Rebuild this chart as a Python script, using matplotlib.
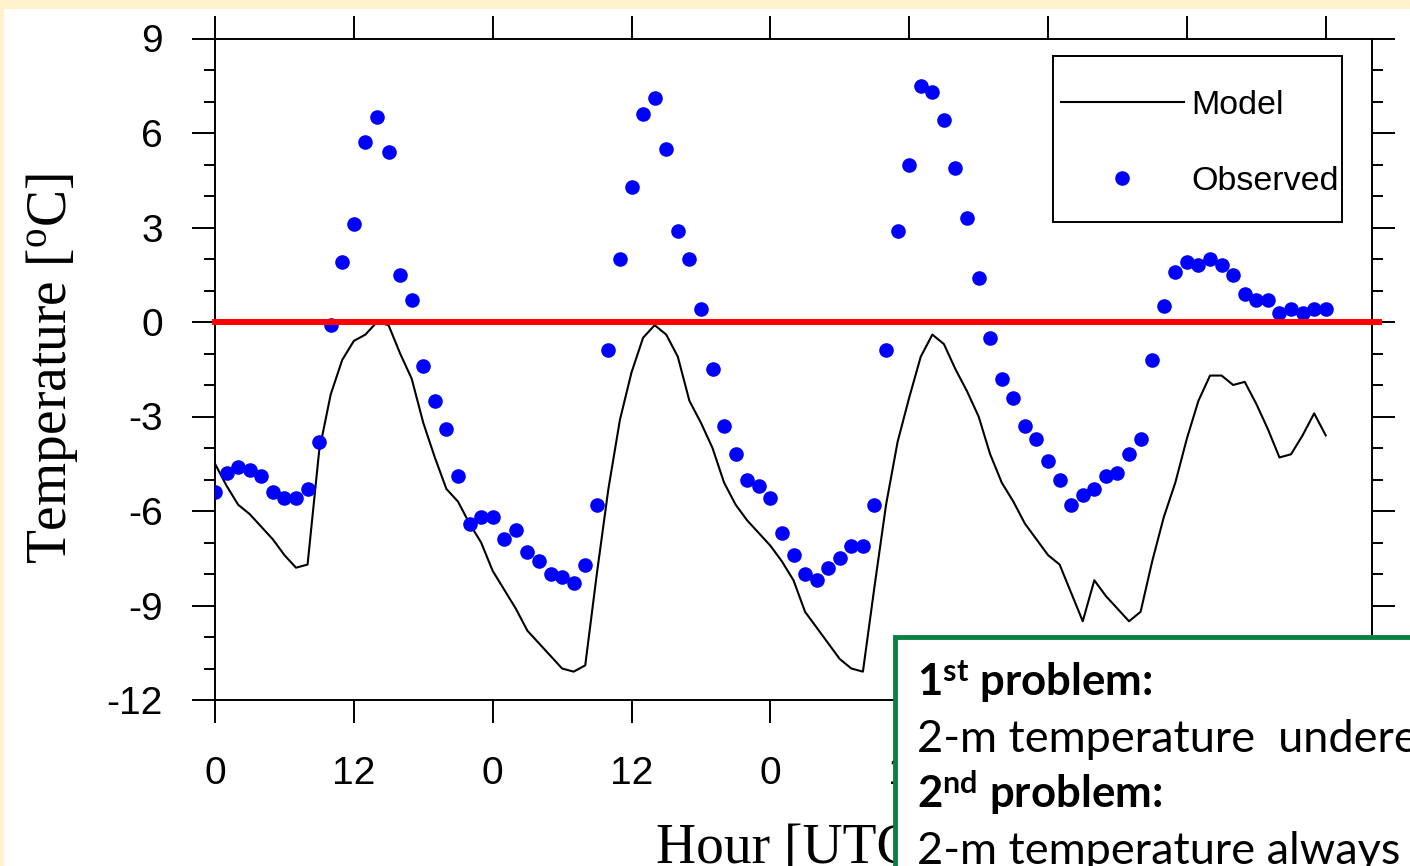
import numpy as np
import matplotlib.pyplot as plt
from matplotlib.patches import Rectangle

plt.rcParams['mathtext.fontset'] = 'custom'
plt.rcParams['mathtext.rm'] = 'Liberation Serif'
plt.rcParams['mathtext.it'] = 'Liberation Serif:italic'
plt.rcParams['mathtext.bf'] = 'Lato:bold'
plt.rcParams['axes.unicode_minus'] = False

# hourly values, 0..96 h
hours = np.arange(97)
observed = [-5.4, -4.8, -4.6, -4.7, -4.9, -5.4, -5.6, -5.6, -5.3, -3.8,
            -0.1, 1.9, 3.1, 5.7, 6.5, 5.4, 1.5, 0.7, -1.4, -2.5,
            -3.4, -4.9, -6.4, -6.2, -6.2, -6.9, -6.6, -7.3, -7.6, -8.0,
            -8.1, -8.3, -7.7, -5.8, -0.9, 2.0, 4.3, 6.6, 7.1, 5.5,
            2.9, 2.0, 0.4, -1.5, -3.3, -4.2, -5.0, -5.2, -5.6, -6.7,
            -7.4, -8.0, -8.2, -7.8, -7.5, -7.1, -7.1, -5.8, -0.9, 2.9,
            5.0, 7.5, 7.3, 6.4, 4.9, 3.3, 1.4, -0.5, -1.8, -2.4,
            -3.3, -3.7, -4.4, -5.0, -5.8, -5.5, -5.3, -4.9, -4.8, -4.2,
            -3.7, -1.2, 0.5, 1.6, 1.9, 1.8, 2.0, 1.8, 1.5, 0.9,
            0.7, 0.7, 0.3, 0.4, 0.3, 0.4, 0.4]
model = [-4.5, -5.2, -5.8, -6.1, -6.5, -6.9, -7.4, -7.8, -7.7, -4.1,
         -2.3, -1.2, -0.6, -0.4, 0.0, -0.1, -1.0, -1.8, -3.2, -4.3,
         -5.3, -5.7, -6.4, -7.0, -7.9, -8.5, -9.1, -9.8, -10.2, -10.6,
         -11.0, -11.1, -10.9, -8.0, -5.3, -3.1, -1.6, -0.5, -0.1, -0.4,
         -1.1, -2.5, -3.2, -4.0, -5.1, -5.8, -6.3, -6.7, -7.1, -7.6,
         -8.2, -9.2, -9.7, -10.2, -10.7, -11.0, -11.1, -8.4, -5.8, -3.8,
         -2.4, -1.1, -0.4, -0.7, -1.5, -2.2, -3.0, -4.2, -5.1, -5.7,
         -6.4, -6.9, -7.4, -7.7, -8.6, -9.5, -8.2, -8.7, -9.1, -9.5,
         -9.2, -7.6, -6.2, -5.1, -3.7, -2.5, -1.7, -1.7, -2.0, -1.9,
         -2.6, -3.4, -4.3, -4.2, -3.6, -2.9, -3.6]
xticks = np.arange(0, 97, 12)
xticklabels = ["0", "12", "0", "12", "0", "12", "0", "12", "0"]
yticks = np.arange(-12, 10, 3)

fig = plt.figure(figsize=(14.1, 8.66), dpi=100, facecolor='#FFF2CC')
fig.patches.append(Rectangle((4/1410, 0), 1, 1 - 9/866, transform=fig.transFigure,
                             facecolor='white', edgecolor='none', zorder=-5))

ax = fig.add_axes([215/1410, 1 - 700/866, 1157/1410, 661.5/866])
ax.plot(hours, model, color='black', lw=1.5, label='Model', zorder=3)
ax.plot(hours, observed, 'o', color='#0000FF', ms=10.5, mec='none', label='Observed', zorder=4)
ax.axhline(0, xmin=0, xmax=1.006, color='#FF0000', lw=4.3, clip_on=False, zorder=5)

ax.set_xlim(0, 100)
ax.set_ylim(-12, 9)
ax.set_xticks(xticks)
ax.set_xticklabels(xticklabels)
ax.set_yticks(yticks)
ax.set_yticks(np.arange(-12, 10, 1), minor=True)
ax.tick_params(axis='both', which='major', direction='out', length=16.5, width=1.4,
               labelsize=28, top=True, right=True)
ax.tick_params(axis='y', which='minor', direction='out', length=8, width=1.4, right=True)
ax.tick_params(axis='x', pad=24)
ax.tick_params(axis='y', pad=21)
for lab in ax.get_xticklabels() + ax.get_yticklabels():
    lab.set_fontfamily('Liberation Sans')
for s in ax.spines.values():
    s.set_linewidth(1.4)

ax.set_ylabel(r'Temperature [$^{\mathrm{o}}$C]', fontfamily='Liberation Serif', fontsize=40, labelpad=19)
ax.set_xlabel('Hour [UTC]', fontfamily='Liberation Serif', fontsize=40, labelpad=22)

# legend: frame drawn separately so the vertical padding can be larger than the horizontal
ax.add_patch(Rectangle((1053/1410, 1 - 222/866), 289/1410, 166/866, transform=fig.transFigure,
                       facecolor='white', edgecolor='black', lw=1.4, zorder=6, clip_on=False))
leg = ax.legend(loc='upper left', bbox_to_anchor=(1061/1410, 1 - 90/866),
                bbox_transform=fig.transFigure, borderaxespad=0, frameon=False,
                handlelength=3.6, handletextpad=0.23, labelspacing=1.33, borderpad=0,
                numpoints=1, prop={'family': 'Liberation Sans', 'size': 24.5})
leg.set_zorder(20)

# annotation box overlapping the lower right
fig.patches.append(Rectangle((895/1410, -0.1), 0.5, 1 - 637/866 + 0.1, transform=fig.transFigure,
                             facecolor='white', edgecolor='#0A8040', lw=3.5, zorder=10))
lines = [(r'1$^{\mathbf{st}}$ problem:', 'bold', 31.5),
         ('2-m temperature  underestimated', 'normal', 32.5),
         (r'2$^{\mathbf{nd}}$ problem:', 'bold', 31.5),
         ('2-m temperature always below 0°C', 'normal', 32.5)]
for i, (txt, wt, fs) in enumerate(lines):
    fig.text(917/1410, 1 - (695 + 56.5*i)/866, txt, fontfamily='Lato', fontweight=wt,
             fontsize=fs, va='baseline', ha='left', zorder=11)

fig.savefig('out.png', dpi=100, facecolor=fig.get_facecolor())
